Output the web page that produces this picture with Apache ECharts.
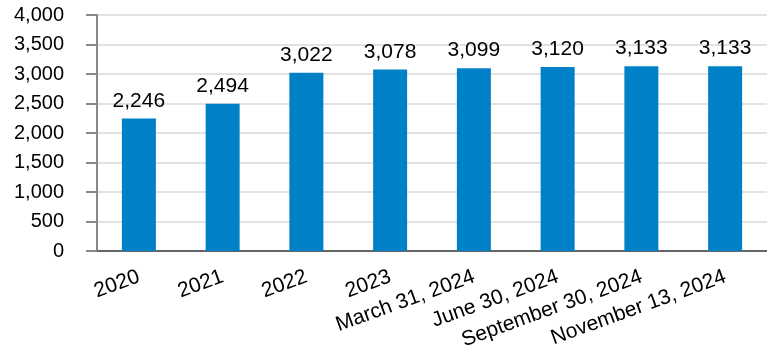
<!DOCTYPE html>
<html>
<head>
<meta charset="utf-8">
<script src="https://cdn.jsdelivr.net/npm/echarts@6/dist/echarts.min.js"></script>
<style>
  html, body { margin: 0; padding: 0; background: #fff; }
  #chart { width: 767px; height: 352px; }
</style>
</head>
<body>
<div id="chart"></div>
<script>
// Chart data
const categories = ['2020', '2021', '2022', '2023', 'March 31, 2024', 'June 30, 2024', 'September 30, 2024', 'November 13, 2024'];
const values = [2246, 2494, 3022, 3078, 3099, 3120, 3133, 3133];
const yTicks = [0, 500, 1000, 1500, 2000, 2500, 3000, 3500, 4000];

const font = 'Liberation Sans, Arial, sans-serif';
const chart = echarts.init(document.getElementById('chart'));

chart.setOption({
  animation: false,
  grid: { left: 97, right: 0, top: 15, bottom: 101, outerBoundsMode: 'none', containLabel: false },
  xAxis: {
    type: 'category',
    data: categories,
    axisLine: { lineStyle: { color: '#666', width: 2 } },
    axisTick: { alignWithLabel: true, length: 10, lineStyle: { color: '#888', width: 2 } },
    axisLabel: {
      rotate: 20, interval: 0, margin: 25,
      color: '#000', fontSize: 21, fontFamily: font
    }
  },
  yAxis: {
    type: 'value',
    min: yTicks[0],
    max: yTicks[yTicks.length - 1],
    interval: 500,
    axisLine: { show: true, lineStyle: { color: '#888', width: 2 } },
    axisTick: { show: true, length: 11, lineStyle: { color: '#888', width: 2 } },
    axisLabel: {
      color: '#000', fontSize: 20, fontFamily: font, margin: 33,
      formatter: v => v.toLocaleString('en-US')
    },
    splitLine: { lineStyle: { color: '#e2e2e2', width: 2 } }
  },
  series: [{
    type: 'bar',
    data: values,
    barWidth: 34,
    itemStyle: { color: '#0080C6' },
    label: {
      show: true, position: 'top', distance: 7,
      color: '#000', fontSize: 21, fontFamily: font,
      formatter: p => p.value.toLocaleString('en-US')
    }
  }]
});
</script>
</body>
</html>
